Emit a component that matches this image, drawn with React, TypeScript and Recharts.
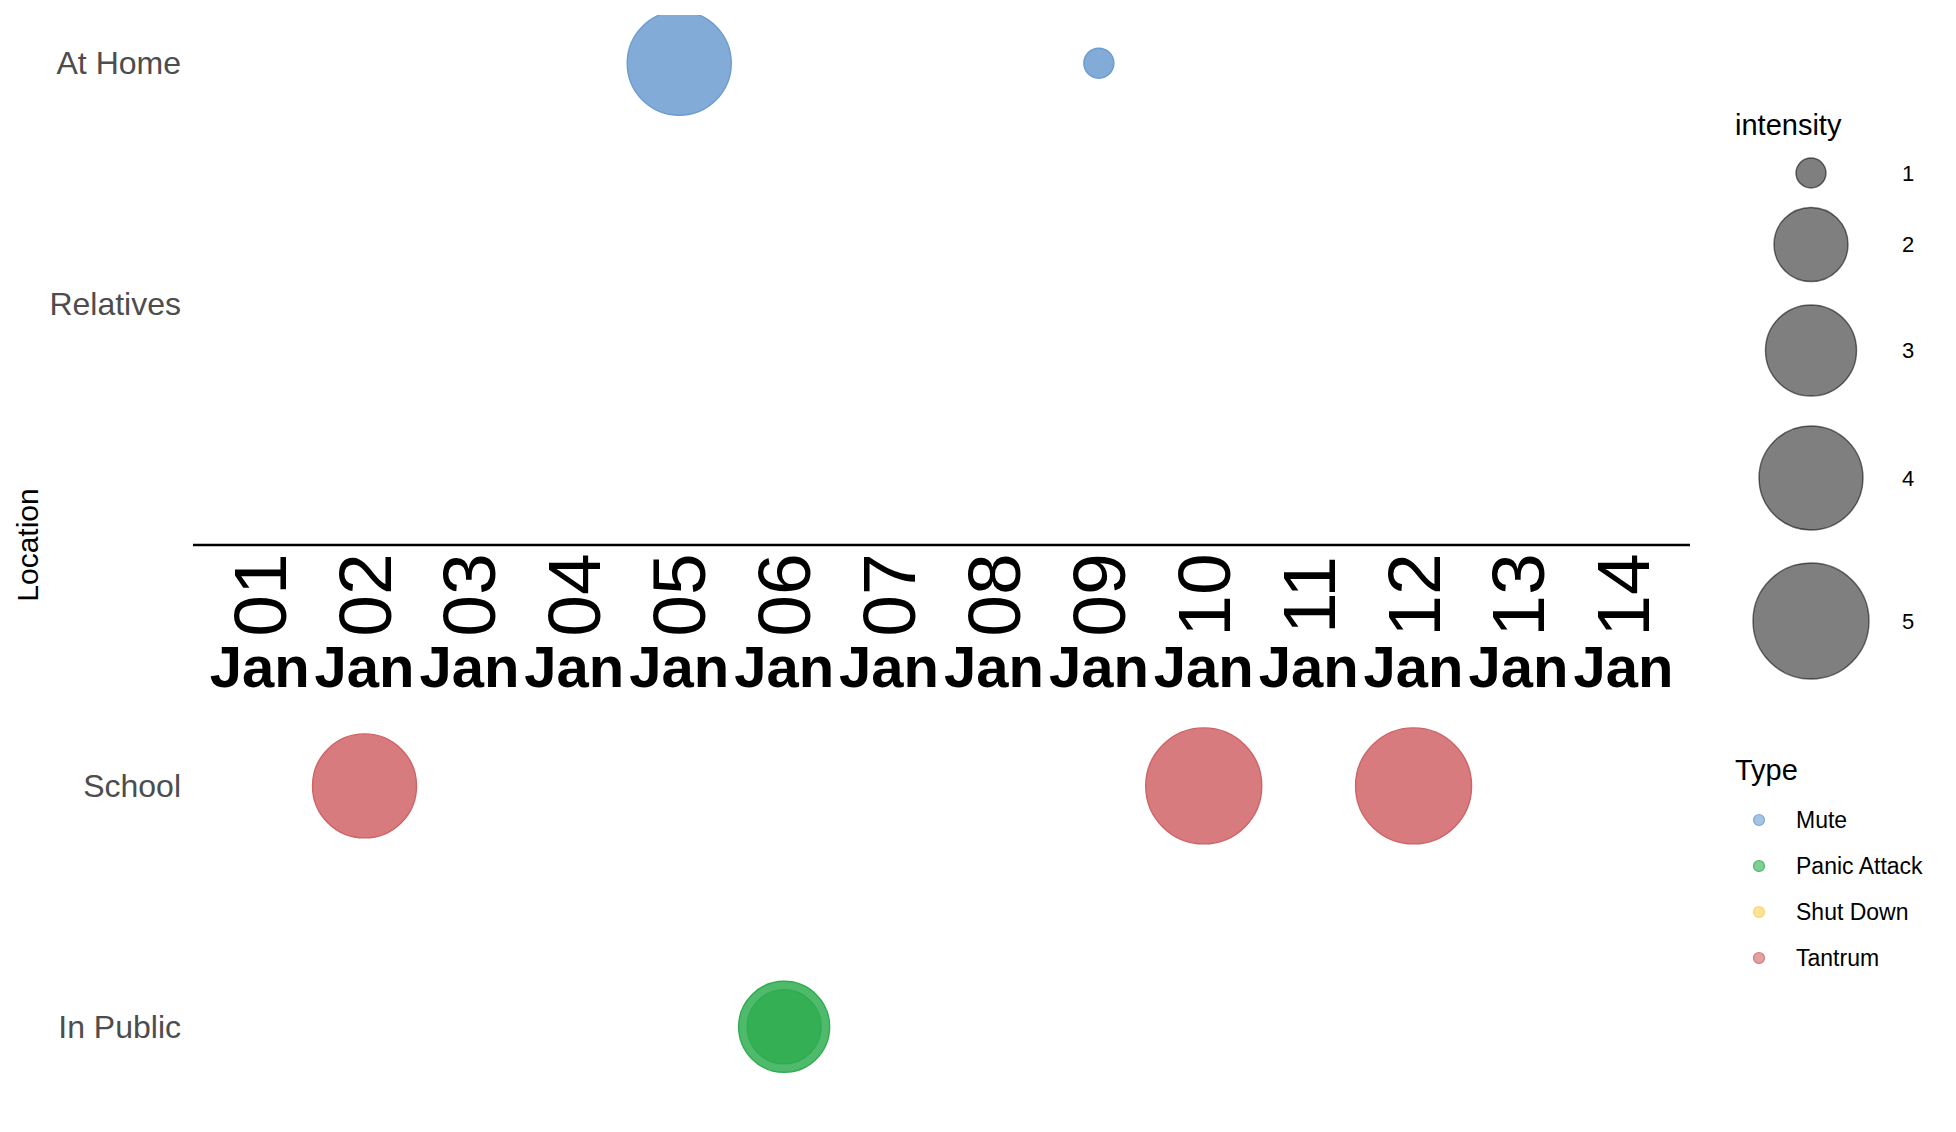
import React from 'react';
import { ScatterChart, Scatter, XAxis, YAxis, ReferenceLine } from 'recharts';

const dayNumbers = [1, 2, 3, 4, 5, 6, 7, 8, 9, 10, 11, 12, 13, 14];
const dayLabels = ['01', '02', '03', '04', '05', '06', '07', '08', '09', '10', '11', '12', '13', '14'];
const monthLabel = 'Jan';

// index in this list = position on the y axis (2 is the row the date axis sits on)
const locations = ['In Public', 'School', '', 'Relatives', 'At Home'];
const locationTicks = [0, 1, 3, 4];

const types = ['Mute', 'Panic Attack', 'Shut Down', 'Tantrum'];
const typeColors = ['#6a9bd1', '#2ead50', '#fdcd4f', '#cf6265'];

const muteDays = [5, 9];
const muteLocations = ['At Home', 'At Home'];
const muteIntensity = [4, 1];

const panicDays = [6, 6];
const panicLocations = ['In Public', 'In Public'];
const panicIntensity = [3, 2];

const tantrumDays = [2, 10, 12];
const tantrumLocations = ['School', 'School', 'School'];
const tantrumIntensity = [4, 5, 5];

const intensityLevels = [1, 2, 3, 4, 5];
const intensityRadius = [15, 37, 45.5, 52, 58];

const FONT = '"Liberation Sans", Arial, Helvetica, sans-serif';

const toPoints = (days: number[], locs: string[], vals: number[]) =>
  days.map((d, i) => ({ day: d, loc: locations.indexOf(locs[i]), intensity: vals[i] }));

const muteData = toPoints(muteDays, muteLocations, muteIntensity);
const panicData = toPoints(panicDays, panicLocations, panicIntensity);
const tantrumData = toPoints(tantrumDays, tantrumLocations, tantrumIntensity);
const axisRow = dayNumbers.map((d, i) => ({ day: d, loc: 2, label: dayLabels[i] }));

const bubble = (color: string) => (props: any) => {
  const { cx, cy, payload } = props;
  const r = intensityRadius[payload.intensity - 1];
  return (
    <circle
      cx={cx}
      cy={cy}
      r={r}
      fill={color}
      fillOpacity={0.84}
      stroke={color}
      strokeWidth={1.4}
    />
  );
};

const DayTick = (props: any) => {
  const { cx, cy, payload } = props;
  return (
    <g fontFamily={FONT}>
      <text
        x={cx}
        y={cy + 50}
        transform={`rotate(-90, ${cx}, ${cy + 50})`}
        textAnchor="middle"
        dominantBaseline="central"
        fontSize={75}
        fill="#000"
      >
        {payload.label}
      </text>
      <text x={cx} y={cy + 142} textAnchor="middle" fontSize={58} fontWeight="bold" fill="#000">
        {monthLabel}
      </text>
    </g>
  );
};

const LocationTick = (props: any) => {
  const { x, y, payload } = props;
  return (
    <text x={x} y={y} textAnchor="end" dominantBaseline="central" fontSize={32} fill="#4d4d4d" fontFamily={FONT}>
      {locations[payload.value]}
    </text>
  );
};

const LocationTitle = (props: any) => {
  const { viewBox } = props;
  const x = viewBox.x + 27;
  const y = viewBox.y + viewBox.height / 2;
  return (
    <text
      x={x}
      y={y}
      transform={`rotate(-90, ${x}, ${y})`}
      textAnchor="middle"
      dominantBaseline="central"
      fontSize={30}
      fill="#000"
      fontFamily={FONT}
    >
      Location
    </text>
  );
};

const legendSizeY = [173, 244.5, 350.5, 478, 621];

const Legends = () => (
  <svg width={1956} height={1132} style={{ position: 'absolute', left: 0, top: 0 }} fontFamily={FONT}>
    <text x={1735} y={135} fontSize={29} fill="#000">
      intensity
    </text>
    {intensityLevels.map((v, i) => (
      <g key={v}>
        <circle
          cx={1811}
          cy={legendSizeY[i]}
          r={intensityRadius[i]}
          fill="#000"
          fillOpacity={0.5}
          stroke="#000"
          strokeOpacity={0.55}
          strokeWidth={1.4}
        />
        <text x={1902} y={legendSizeY[i]} dominantBaseline="central" fontSize={22} fill="#000">
          {v}
        </text>
      </g>
    ))}
    <text x={1735} y={780} fontSize={29} fill="#000">
      Type
    </text>
    {types.map((t, i) => (
      <g key={t}>
        <circle
          cx={1759}
          cy={820 + i * 46}
          r={5.5}
          fill={typeColors[i]}
          fillOpacity={0.6}
          stroke={typeColors[i]}
          strokeOpacity={0.8}
          strokeWidth={1.2}
        />
        <text x={1796} y={820 + i * 46} dominantBaseline="central" fontSize={23} fill="#000">
          {t}
        </text>
      </g>
    ))}
  </svg>
);

export default function App() {
  return (
    <div style={{ position: 'absolute', left: 0, top: 0, width: 1956, height: 1132, background: '#fff' }}>
      <ScatterChart width={1956} height={1132} margin={{ top: 15, right: 266, bottom: 57, left: 0 }}>
        <XAxis dataKey="day" type="number" domain={[0.365, 14.635]} hide />
        <YAxis
          dataKey="loc"
          type="number"
          domain={[-0.2, 4.2]}
          ticks={locationTicks}
          width={193}
          axisLine={false}
          tickLine={false}
          tickMargin={6}
          tick={LocationTick}
          allowDataOverflow
          label={LocationTitle}
        />
        <ReferenceLine y={2} stroke="#000" strokeWidth={2.5} />
        <Scatter data={axisRow} shape={DayTick} isAnimationActive={false} />
        <Scatter name="Mute" data={muteData} shape={bubble(typeColors[0])} isAnimationActive={false} />
        <Scatter name="Panic Attack" data={panicData} shape={bubble(typeColors[1])} isAnimationActive={false} />
        <Scatter name="Tantrum" data={tantrumData} shape={bubble(typeColors[3])} isAnimationActive={false} />
      </ScatterChart>
      <Legends />
    </div>
  );
}
